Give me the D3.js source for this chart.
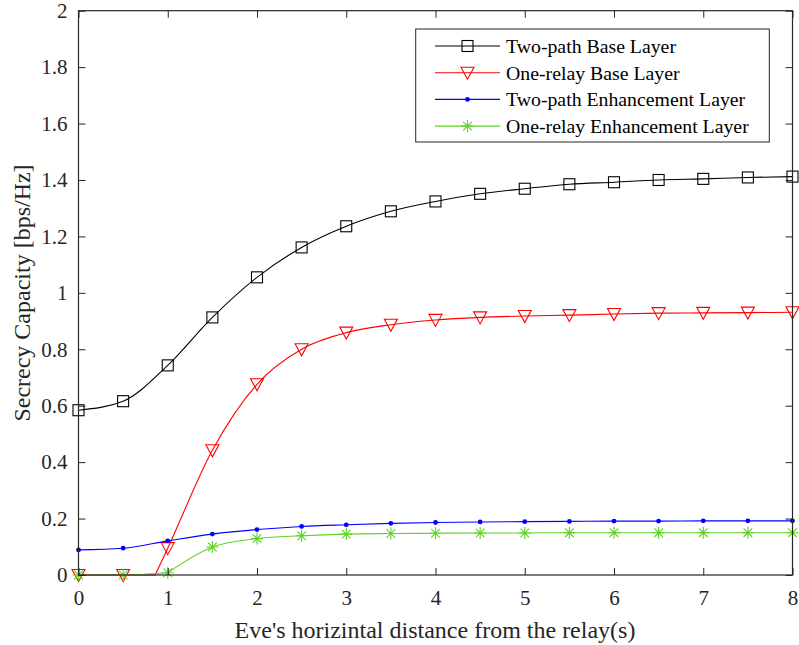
<!DOCTYPE html>
<html>
<head>
<meta charset="utf-8">
<script src="https://cdn.jsdelivr.net/npm/d3@7"></script>
<style>
  html, body { margin: 0; padding: 0; background: #fff; }
  svg { display: block; }
  text { font-family: "Liberation Serif", "Times New Roman", serif; fill: #262626; }
</style>
</head>
<body>
<svg id="chart" width="799" height="645"></svg>
<script>
// ---------- data ----------
const xValues = [0, 0.5, 1, 1.5, 2, 2.5, 3, 3.5, 4, 4.5, 5, 5.5, 6, 6.5, 7, 7.5, 8];
const twoPathBase = [0.584, 0.616, 0.743, 0.913, 1.055, 1.161, 1.236, 1.289, 1.324, 1.351, 1.369, 1.385, 1.392, 1.400, 1.404, 1.409, 1.412];
const oneRelayBase = [0, 0, 0.095, 0.442, 0.676, 0.800, 0.859, 0.887, 0.904, 0.913, 0.918, 0.921, 0.925, 0.928, 0.929, 0.930, 0.931];
const twoPathEnh = [0.089, 0.095, 0.121, 0.145, 0.161, 0.172, 0.178, 0.183, 0.186, 0.188, 0.189, 0.190, 0.191, 0.191, 0.192, 0.192, 0.192];
const oneRelayEnh = [0, 0, 0.008, 0.099, 0.129, 0.139, 0.145, 0.147, 0.148, 0.149, 0.149, 0.150, 0.150, 0.150, 0.150, 0.150, 0.150];
// onset point where the one-relay base layer starts to rise
const oneRelayOnset = [0.86, 0];

const seriesNames = ["Two-path Base Layer", "One-relay Base Layer", "Two-path Enhancement Layer", "One-relay Enhancement Layer"];
const xTicks = [0, 1, 2, 3, 4, 5, 6, 7, 8];
const yTicks = [0, 0.2, 0.4, 0.6, 0.8, 1, 1.2, 1.4, 1.6, 1.8, 2];
const xLabel = "Eve's horizintal distance from the relay(s)";
const yLabel = "Secrecy Capacity [bps/Hz]";

// ---------- layout ----------
const svg = d3.select("#chart");
const L = 78.5, R = 792.5, T = 10.7, B = 575;
const x = d3.scaleLinear().domain([0, 8]).range([L, R]);
const y = d3.scaleLinear().domain([0, 2]).range([B, T]);
const axisColor = "#262626";

// ---------- series ----------
function pts(vals) { return xValues.map((xv, i) => [xv, vals[i]]); }
const redAll = pts(oneRelayBase);
const redSegs = [ [...redAll.slice(0, 2), oneRelayOnset], [oneRelayOnset, ...redAll.slice(2)] ];
const greenAll = pts(oneRelayEnh);
const greenSegs = [ greenAll.slice(0, 3), greenAll.slice(2) ];

const series = [
  { name: seriesNames[0], color: "#000000", segs: [pts(twoPathBase)], marks: pts(twoPathBase), marker: "square" },
  { name: seriesNames[1], color: "#ff0000", segs: redSegs, marks: redAll, marker: "tri" },
  { name: seriesNames[2], color: "#0000ff", segs: [pts(twoPathEnh)], marks: pts(twoPathEnh), marker: "dot" },
  { name: seriesNames[3], color: "#62d226", segs: greenSegs, marks: greenAll, marker: "star" }
];

const lineGen = d3.line().x(d => x(d[0])).y(d => y(d[1])).curve(d3.curveMonotoneX);

function drawMarker(g, type, cx, cy, color) {
  if (type === "square") {
    g.append("rect").attr("x", cx - 5.5).attr("y", cy - 5.5).attr("width", 11).attr("height", 11)
      .attr("fill", "none").attr("stroke", color).attr("stroke-width", 1.1);
  } else if (type === "tri") {
    const w = 6.5, h = 6.5;
    g.append("path").attr("d", `M${cx - w},${cy - h * 0.85}L${cx + w},${cy - h * 0.85}L${cx},${cy + h * 1.0}Z`)
      .attr("fill", "none").attr("stroke", color).attr("stroke-width", 1.1);
  } else if (type === "dot") {
    g.append("circle").attr("cx", cx).attr("cy", cy).attr("r", 2.4).attr("fill", color);
  } else if (type === "star") {
    const r = 6, d = r * 0.72;
    g.append("path").attr("d",
      `M${cx - r},${cy}L${cx + r},${cy}M${cx},${cy - r}L${cx},${cy + r}` +
      `M${cx - d},${cy - d}L${cx + d},${cy + d}M${cx - d},${cy + d}L${cx + d},${cy - d}`)
      .attr("fill", "none").attr("stroke", color).attr("stroke-width", 1.1);
  }
}

const plotG = svg.append("g");
series.forEach(s => {
  s.segs.forEach(seg => {
    plotG.append("path").attr("d", lineGen(seg)).attr("fill", "none")
      .attr("stroke", s.color).attr("stroke-width", 1.1);
  });
  const mg = plotG.append("g");
  s.marks.forEach(p => drawMarker(mg, s.marker, x(p[0]), y(p[1]), s.color));
});

// ---------- axes ----------
const tickLen = 7;
const axG = svg.append("g");
const xAxisB = d3.axisBottom(x).tickValues(xTicks).tickSize(-tickLen).tickPadding(15).tickFormat(d3.format("d"));
const xAxisT = d3.axisTop(x).tickValues(xTicks).tickSize(-tickLen).tickFormat("");
const yAxisL = d3.axisLeft(y).tickValues(yTicks).tickSize(-tickLen).tickPadding(11).tickFormat(d => String(+d.toFixed(1)));
const yAxisR = d3.axisRight(y).tickValues(yTicks).tickSize(-tickLen).tickFormat("");

function style(g) {
  g.select(".domain").remove();
  g.selectAll(".tick line").attr("stroke", axisColor).attr("stroke-width", 1);
  g.selectAll(".tick text").attr("fill", axisColor).style("font-size", "21px")
    .style("font-family", '"Liberation Serif", serif');
}
axG.append("g").attr("transform", `translate(0,${B})`).call(xAxisB).call(style);
axG.append("g").attr("transform", `translate(0,${T})`).call(xAxisT).call(style);
axG.append("g").attr("transform", `translate(${L},0)`).call(yAxisL).call(style);
axG.append("g").attr("transform", `translate(${R},0)`).call(yAxisR).call(style);

axG.append("rect").attr("x", L).attr("y", T).attr("width", R - L).attr("height", B - T)
  .attr("fill", "none").attr("stroke", axisColor).attr("stroke-width", 1.2);

// axis labels
svg.append("text").attr("x", 435).attr("y", 638).attr("text-anchor", "middle")
  .style("font-size", "24px").text(xLabel);
svg.append("text").attr("transform", `translate(30,293) rotate(-90)`).attr("text-anchor", "middle")
  .style("font-size", "24px").text(yLabel);

// ---------- legend ----------
const lg = svg.append("g");
lg.append("rect").attr("x", 415.7).attr("y", 29).attr("width", 353.6).attr("height", 113)
  .attr("fill", "#fff").attr("stroke", axisColor).attr("stroke-width", 1);
series.forEach((s, i) => {
  const ly = 46 + i * 26.7;
  lg.append("line").attr("x1", 435).attr("x2", 500).attr("y1", ly).attr("y2", ly)
    .attr("stroke", s.color).attr("stroke-width", 1.1);
  drawMarker(lg, s.marker, 467.5, ly, s.color);
  lg.append("text").attr("x", 506).attr("y", ly).attr("dy", "0.35em")
    .style("font-size", "19.8px").style("fill", "#000").text(s.name);
});
</script>
</body>
</html>
